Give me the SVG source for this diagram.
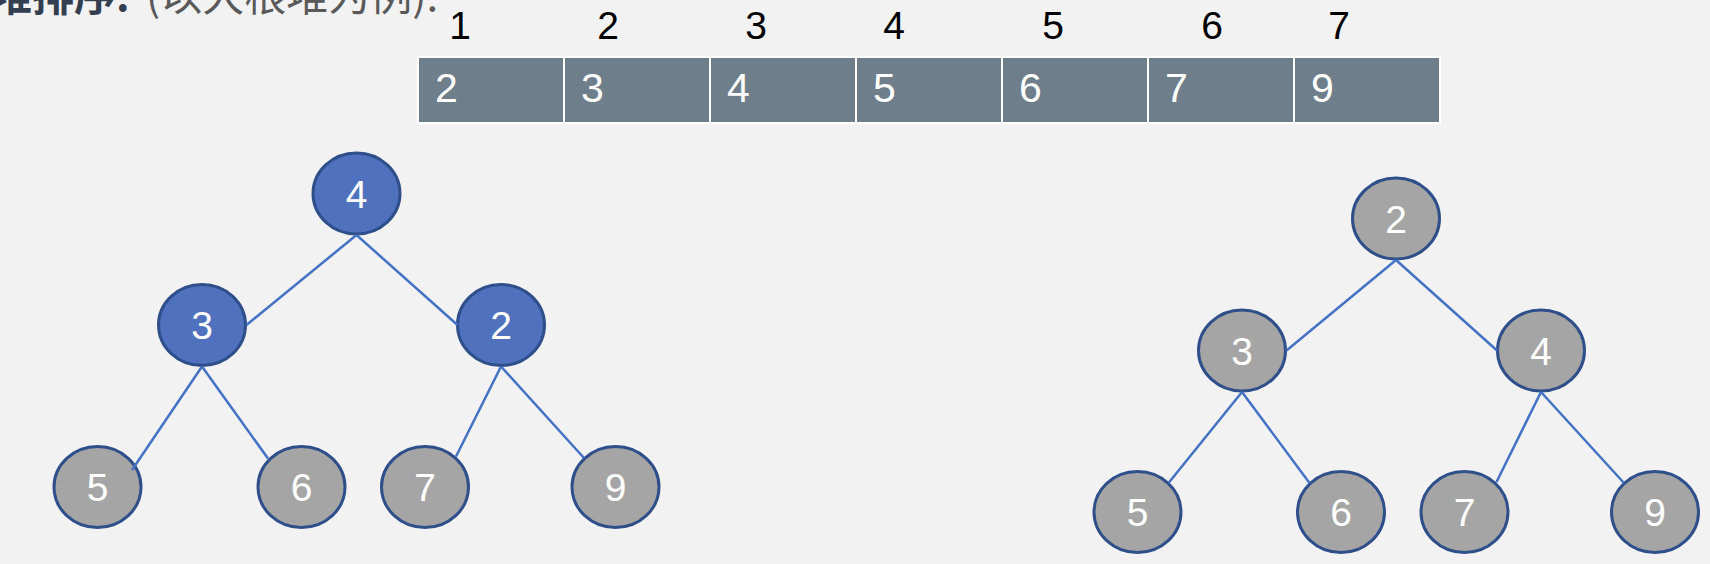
<svg xmlns="http://www.w3.org/2000/svg" width="1710" height="564" viewBox="0 0 1710 564">
<style>
.title-b{font-family:"Noto Sans CJK SC","Noto Sans",sans-serif;font-weight:bold;font-size:42px;fill:#333F50}
.title-g{font-family:"Noto Sans CJK SC","Noto Sans",sans-serif;font-size:42px;fill:#595959}
.idx{font-family:"Liberation Sans",Arial,sans-serif;font-size:39px;fill:#000;text-anchor:middle}
.cell{fill:#6E7E8B;stroke:#FFFFFF;stroke-width:2}
.celltxt{font-family:"Liberation Sans",Arial,sans-serif;font-size:41px;fill:#FFFFFF}
.nb{fill:#4F71BE;stroke:#2F4F8A;stroke-width:3}
.ng{fill:#A5A5A5;stroke:#2F4F8A;stroke-width:3}
.nt{font-family:"Liberation Sans",Arial,sans-serif;font-size:39px;fill:#FFFFFF;text-anchor:middle}
.edge{stroke:#4472C4;stroke-width:2.5;fill:none}
</style>
<rect x="0" y="0" width="1710" height="564" fill="#F2F2F2"/>
<g id="title">
<text class="title-b" y="11" x="-10">堆排序:</text>
<text class="title-g" y="11" x="146">(以大根堆为例):</text>
</g>
<g id="indices">
<text class="idx" x="460" y="39">1</text>
<text class="idx" x="608" y="39">2</text>
<text class="idx" x="756" y="39">3</text>
<text class="idx" x="894" y="39">4</text>
<text class="idx" x="1053" y="39">5</text>
<text class="idx" x="1212" y="39">6</text>
<text class="idx" x="1339" y="39">7</text>
</g>
<g id="array">
<rect class="cell" x="418" y="57" width="146" height="66"/>
<rect class="cell" x="564" y="57" width="146" height="66"/>
<rect class="cell" x="710" y="57" width="146" height="66"/>
<rect class="cell" x="856" y="57" width="146" height="66"/>
<rect class="cell" x="1002" y="57" width="146" height="66"/>
<rect class="cell" x="1148" y="57" width="146" height="66"/>
<rect class="cell" x="1294" y="57" width="146" height="66"/>
<text class="celltxt" x="435" y="102">2</text>
<text class="celltxt" x="581" y="102">3</text>
<text class="celltxt" x="727" y="102">4</text>
<text class="celltxt" x="873" y="102">5</text>
<text class="celltxt" x="1019" y="102">6</text>
<text class="celltxt" x="1165" y="102">7</text>
<text class="celltxt" x="1311" y="102">9</text>
</g>
<g id="L4"><ellipse class="nb" cx="356.5" cy="193.5" rx="43.5" ry="40.5"/><text class="nt" x="356.5" y="207.5">4</text></g>
<g id="L3"><ellipse class="nb" cx="202" cy="325" rx="43.5" ry="40.5"/><text class="nt" x="202" y="339">3</text></g>
<g id="L2"><ellipse class="nb" cx="501" cy="325" rx="43.5" ry="40.5"/><text class="nt" x="501" y="339">2</text></g>
<g id="L5"><ellipse class="ng" cx="97.5" cy="487" rx="43.5" ry="40.5"/><text class="nt" x="97.5" y="501">5</text></g>
<g id="L6"><ellipse class="ng" cx="301.5" cy="487" rx="43.5" ry="40.5"/><text class="nt" x="301.5" y="501">6</text></g>
<g id="L7"><ellipse class="ng" cx="425" cy="487" rx="43.5" ry="40.5"/><text class="nt" x="425" y="501">7</text></g>
<g id="L9"><ellipse class="ng" cx="615.5" cy="487" rx="43.5" ry="40.5"/><text class="nt" x="615.5" y="501">9</text></g>
<g id="R2"><ellipse class="ng" cx="1396" cy="218.5" rx="43.5" ry="40.5"/><text class="nt" x="1396" y="232.5">2</text></g>
<g id="R3"><ellipse class="ng" cx="1242" cy="350.5" rx="43.5" ry="40.5"/><text class="nt" x="1242" y="364.5">3</text></g>
<g id="R4"><ellipse class="ng" cx="1541" cy="350.5" rx="43.5" ry="40.5"/><text class="nt" x="1541" y="364.5">4</text></g>
<g id="R5"><ellipse class="ng" cx="1137.5" cy="512" rx="43.5" ry="40.5"/><text class="nt" x="1137.5" y="526">5</text></g>
<g id="R6"><ellipse class="ng" cx="1341" cy="512" rx="43.5" ry="40.5"/><text class="nt" x="1341" y="526">6</text></g>
<g id="R7"><ellipse class="ng" cx="1464.5" cy="512" rx="43.5" ry="40.5"/><text class="nt" x="1464.5" y="526">7</text></g>
<g id="R9"><ellipse class="ng" cx="1655" cy="512" rx="43.5" ry="40.5"/><text class="nt" x="1655" y="526">9</text></g>
<g id="connectors">
<line class="edge" x1="356.5" y1="235" x2="246.5" y2="325"/>
<line class="edge" x1="356.5" y1="235" x2="457.5" y2="325"/>
<line class="edge" x1="202" y1="366.5" x2="132" y2="470"/>
<line class="edge" x1="202" y1="366.5" x2="268" y2="458.5"/>
<line class="edge" x1="501" y1="366.5" x2="456" y2="456.5"/>
<line class="edge" x1="501" y1="366.5" x2="584" y2="458"/>
<line class="edge" x1="1396" y1="260" x2="1286.5" y2="350.5"/>
<line class="edge" x1="1396" y1="260" x2="1497" y2="350.5"/>
<line class="edge" x1="1242" y1="392" x2="1168.5" y2="483"/>
<line class="edge" x1="1242" y1="392" x2="1309.5" y2="483"/>
<line class="edge" x1="1541" y1="392" x2="1496.5" y2="482"/>
<line class="edge" x1="1541" y1="392" x2="1624" y2="483"/>
</g>
</svg>
